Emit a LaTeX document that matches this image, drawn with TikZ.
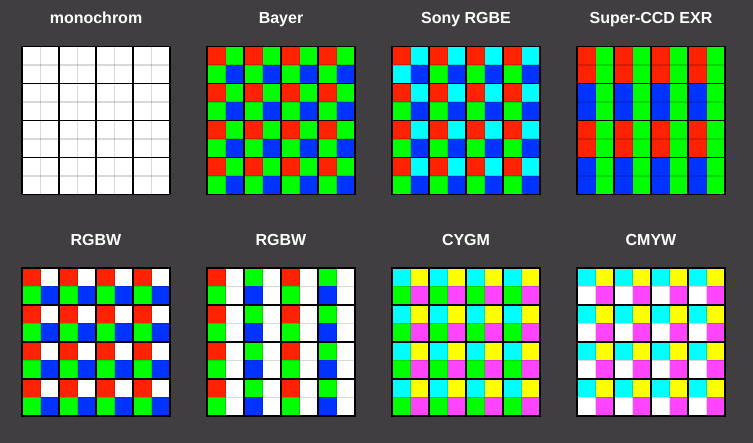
\documentclass[tikz,border=0pt]{standalone}
\usepackage{fontspec}
\setmainfont{Liberation Sans}
\definecolor{bg}{RGB}{64,62,64}
\definecolor{colR}{RGB}{255,34,0}
\definecolor{colG}{RGB}{0,255,0}
\definecolor{colB}{RGB}{0,51,255}
\definecolor{colC}{RGB}{0,255,255}
\definecolor{colY}{RGB}{255,255,0}
\definecolor{colM}{RGB}{255,68,255}
\definecolor{colW}{RGB}{255,255,255}
\tikzset{
  thinline/.style={draw=black,draw opacity=0.15,line width=1.5pt},
  thickline/.style={draw=black,line width=1.8pt},
  title/.style={text=white,font=\bfseries\fontsize{16}{19}\selectfont,inner sep=0pt,anchor=base}
}
\newcommand\sensorgrid[3]{%
  \begin{scope}[shift={(#1,#2)}]
    \foreach \rowlist [count=\r from 0] in {#3} {
      \foreach \cc [count=\c from 0] in \rowlist {
        \fill[fill=col\cc] (\c*18.5,\r*18.5) rectangle ++(18.5,18.5);
      }
    }
    \foreach \i in {1,3,5,7} {
      \draw[thinline] (\i*18.5,0) -- (\i*18.5,148);
      \draw[thinline] (0,\i*18.5) -- (148,\i*18.5);
    }
    \foreach \i in {2,4,6} {
      \draw[thickline] (\i*18.5,0) -- (\i*18.5,148);
      \draw[thickline] (0,\i*18.5) -- (148,\i*18.5);
    }
    \draw[thickline] (0,0) rectangle (148,148);
  \end{scope}}
\begin{document}
\begin{tikzpicture}[x=1pt,y=-1pt]
\fill[bg] (0,0) rectangle (753,443);
\useasboundingbox (0,0) rectangle (753,443);
% titles
\node[title] (t1) at (96,24) {monochrom};
\node[title] (t2) at (281,24) {Bayer};
\node[title] (t3) at (466,24) {Sony RGBE};
\node[title] (t4) at (651,24) {Super-CCD EXR};
\node[title] (t5) at (96,246) {RGBW};
\node[title] (t6) at (281,246) {RGBW};
\node[title] (t7) at (466,246) {CYGM};
\node[title] (t8) at (651,246) {CMYW};
% monochrom
\sensorgrid{22}{46.5}{{W,W,W,W,W,W,W,W},{W,W,W,W,W,W,W,W},{W,W,W,W,W,W,W,W},{W,W,W,W,W,W,W,W},{W,W,W,W,W,W,W,W},{W,W,W,W,W,W,W,W},{W,W,W,W,W,W,W,W},{W,W,W,W,W,W,W,W}}
% Bayer
\sensorgrid{207}{46.5}{{R,G,R,G,R,G,R,G},{G,B,G,B,G,B,G,B},{R,G,R,G,R,G,R,G},{G,B,G,B,G,B,G,B},{R,G,R,G,R,G,R,G},{G,B,G,B,G,B,G,B},{R,G,R,G,R,G,R,G},{G,B,G,B,G,B,G,B}}
% Sony RGBE
\sensorgrid{392}{46.5}{{R,C,R,C,R,C,R,C},{C,B,G,B,G,B,G,B},{R,C,R,C,R,C,R,C},{G,B,G,B,G,B,G,B},{R,C,R,C,R,C,R,C},{G,B,G,B,G,B,G,B},{R,C,R,C,R,C,R,C},{G,B,G,B,G,B,G,B}}
% Super-CCD EXR
\sensorgrid{577}{46.5}{{R,G,R,G,R,G,R,G},{R,G,R,G,R,G,R,G},{B,G,B,G,B,G,B,G},{B,G,B,G,B,G,B,G},{R,G,R,G,R,G,R,G},{R,G,R,G,R,G,R,G},{B,G,B,G,B,G,B,G},{B,G,B,G,B,G,B,G}}
% RGBW 1
\sensorgrid{22}{268}{{R,W,R,W,R,W,R,W},{G,B,G,B,G,B,G,B},{R,W,R,W,R,W,R,W},{G,B,G,B,G,B,G,B},{R,W,R,W,R,W,R,W},{G,B,G,B,G,B,G,B},{R,W,R,W,R,W,R,W},{G,B,G,B,G,B,G,B}}
% RGBW 2
\sensorgrid{207}{268}{{R,W,G,W,R,W,G,W},{G,W,B,W,G,W,B,W},{R,W,G,W,R,W,G,W},{G,W,B,W,G,W,B,W},{R,W,G,W,R,W,G,W},{G,W,B,W,G,W,B,W},{R,W,G,W,R,W,G,W},{G,W,B,W,G,W,B,W}}
% CYGM
\sensorgrid{392}{268}{{C,Y,C,Y,C,Y,C,Y},{G,M,G,M,G,M,G,M},{C,Y,C,Y,C,Y,C,Y},{G,M,G,M,G,M,G,M},{C,Y,C,Y,C,Y,C,Y},{G,M,G,M,G,M,G,M},{C,Y,C,Y,C,Y,C,Y},{G,M,G,M,G,M,G,M}}
% CMYW
\sensorgrid{577}{268}{{C,Y,C,Y,C,Y,C,Y},{W,M,W,M,W,M,W,M},{C,Y,C,Y,C,Y,C,Y},{W,M,W,M,W,M,W,M},{C,Y,C,Y,C,Y,C,Y},{W,M,W,M,W,M,W,M},{C,Y,C,Y,C,Y,C,Y},{W,M,W,M,W,M,W,M}}
\end{tikzpicture}
\end{document}
